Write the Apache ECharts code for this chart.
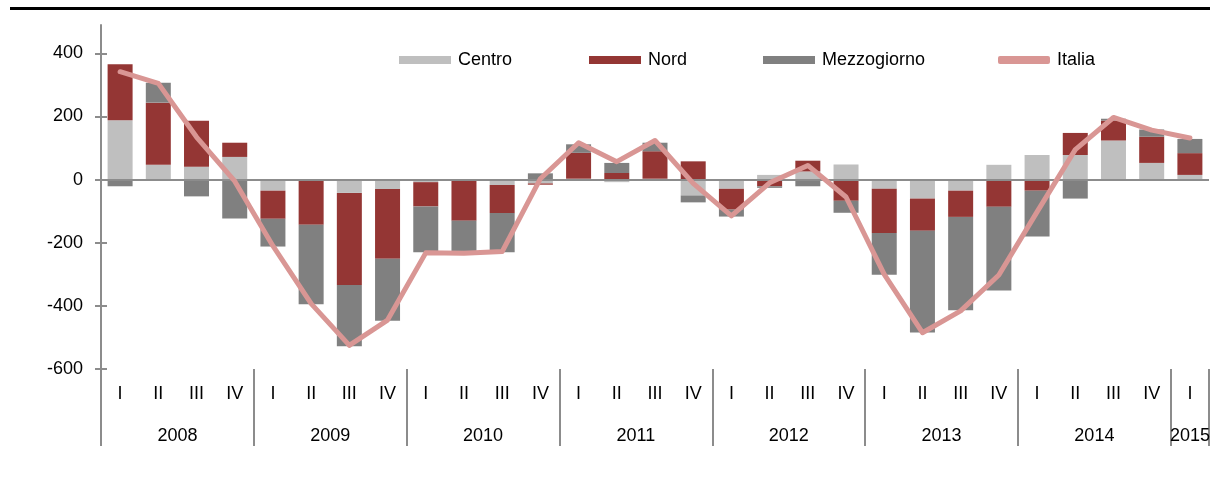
<!DOCTYPE html>
<html>
<head>
<meta charset="utf-8">
<script src="https://cdn.jsdelivr.net/npm/echarts@6/dist/echarts.min.js"></script>
<style>
  html, body { margin: 0; padding: 0; background: #fff; }
  #chart { width: 1218px; height: 479px; }
</style>
</head>
<body>
<div id="chart"></div>
<script>
// quarters 2008 I .. 2015 I
const quarters = [
  'I', 'II', 'III', 'IV', 'I', 'II', 'III', 'IV', 'I', 'II', 'III', 'IV',
  'I', 'II', 'III', 'IV', 'I', 'II', 'III', 'IV', 'I', 'II', 'III', 'IV',
  'I', 'II', 'III', 'IV', 'I'
];
const years = ['2008', '2009', '2010', '2011', '2012', '2013', '2014', '2015'];
const yearBounds = [0, 4, 8, 12, 16, 20, 24, 28, 29];
const yearCenters = [2, 6, 10, 14, 18, 22, 26, 28.5];
const yTicks = [-600, -400, -200, 0, 200, 400];

const centro = [188, 47, 41, 72, -35, -2, -42, -30, -8, -2, -17, -12, 3, -8, 3, -50,
  -29, 15, 26, 48, -29, -60, -35, 47, 78, 78, 124, 53, 15];
const nord = [178, 197, 146, 45, -89, -141, -292, -221, -77, -128, -89, -4, 82, 21, 87, 58,
  -66, -21, 34, -67, -140, -102, -83, -86, -35, 70, 63, 83, 69];
const mezzogiorno = [-21, 63, -53, -123, -88, -252, -194, -196, -145, -96, -124, 20, 27, 32, 27, -22,
  -22, -5, -21, -38, -132, -322, -296, -265, -145, -60, 6, 23, 45];
const italia = [342, 305, 135, -5, -210, -393, -525, -445, -232, -233, -228, 3, 117, 57, 124, -12,
  -115, -10, 45, -55, -300, -485, -416, -302, -102, 95, 197, 157, 132];

const FONT = '"Liberation Sans Narrow", "Liberation Sans", Arial, sans-serif';
const FS = 18;
const AXIS_GREY = '#8c8c8c';

const chart = echarts.init(document.getElementById('chart'));

function barSeries(name, values, color) {
  return {
    name: name,
    type: 'bar',
    stack: 'regioni',
    barWidth: 25,
    data: values,
    itemStyle: { color: color },
    emphasis: { disabled: true }
  };
}

// one legend per entry so each swatch sits where it is in the original
function legendAt(name, left, icon) {
  return {
    top: 46,
    left: left,
    itemWidth: 52,
    itemHeight: 8,
    selectedMode: false,
    textStyle: { fontFamily: FONT, fontSize: FS, color: '#000', padding: [0, 0, 0, 2] },
    data: [{ name: name, icon: icon }]
  };
}

const centroSeries = barSeries('Centro', centro, '#bfbfbf');
centroSeries.markLine = {
  silent: true,
  symbol: 'none',
  label: { show: false },
  lineStyle: { color: AXIS_GREY, width: 2, type: 'solid' },
  data: [{ yAxis: 0 }]
};

const option = {
  animation: false,
  textStyle: { fontFamily: FONT },
  grid: { left: 101, right: 9, top: 25, bottom: 110 },
  legend: [
    legendAt('Centro', 394, 'rect'),
    legendAt('Nord', 584, 'rect'),
    legendAt('Mezzogiorno', 758, 'rect'),
    legendAt('Italia', 993, 'roundRect')
  ],
  xAxis: [
    {
      type: 'category',
      data: quarters,
      position: 'bottom',
      axisLine: { show: false, onZero: false },
      axisTick: { show: false },
      axisLabel: { interval: 0, fontSize: FS, color: '#000', margin: 16, fontFamily: FONT }
    },
    {
      type: 'value',
      min: 0,
      max: 29,
      position: 'bottom',
      offset: 0,
      axisLine: { show: false, onZero: false },
      splitLine: { show: false },
      axisTick: {
        show: true,
        customValues: yearBounds,
        length: 77,
        lineStyle: { color: AXIS_GREY, width: 2 }
      },
      axisLabel: {
        customValues: yearCenters,
        fontSize: FS,
        color: '#000',
        margin: 58,
        fontFamily: FONT,
        formatter: function (v) {
          return years[Math.floor(v / 4)];
        }
      }
    }
  ],
  yAxis: [
    {
      type: 'value',
      min: -600,
      max: 490,
      interval: 200,
      axisLine: { show: true, lineStyle: { color: AXIS_GREY, width: 2 } },
      axisTick: { show: true, customValues: yTicks, length: 6, lineStyle: { color: AXIS_GREY, width: 2 } },
      axisLabel: { customValues: yTicks, fontSize: FS, color: '#000', margin: 18, fontFamily: FONT },
      splitLine: { show: false }
    },
    {
      type: 'value',
      min: -600,
      max: 490,
      position: 'left',
      offset: 0,
      axisLine: { show: false },
      axisTick: { show: true, inside: true, customValues: yTicks, length: 6, lineStyle: { color: AXIS_GREY, width: 2 } },
      axisLabel: { show: false },
      splitLine: { show: false }
    }
  ],
  graphic: [
    {
      type: 'line',
      shape: { x1: 10, y1: 8.5, x2: 1210, y2: 8.5 },
      style: { stroke: '#000', lineWidth: 3 }
    }
  ],
  series: [
    centroSeries,
    barSeries('Nord', nord, '#943634'),
    barSeries('Mezzogiorno', mezzogiorno, '#808080'),
    {
      name: 'Italia',
      type: 'line',
      data: italia,
      z: 5,
      showSymbol: false,
      symbol: 'none',
      lineStyle: { color: '#d99694', width: 5, cap: 'round', join: 'round' },
      itemStyle: { color: '#d99694' },
      emphasis: { disabled: true }
    }
  ]
};

chart.setOption(option);
</script>
</body>
</html>
